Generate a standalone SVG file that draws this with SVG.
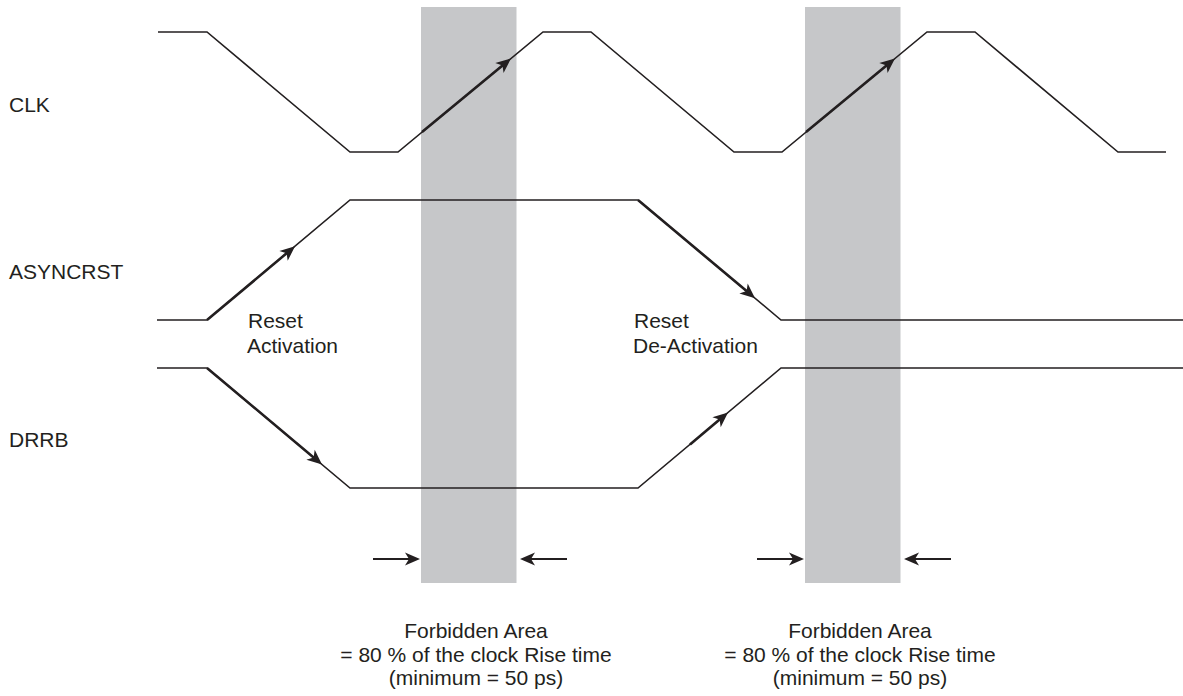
<svg xmlns="http://www.w3.org/2000/svg" width="1183" height="696" viewBox="0 0 1183 696">
<style>
.bg{fill:#ffffff}
.zone{fill:#c6c7c9}
.wave{fill:none;stroke:#231f20;stroke-width:1.6;stroke-linejoin:miter}
.thick{fill:none;stroke:#231f20;stroke-width:2.6;marker-end:url(#ah)}
.dim{fill:none;stroke:#231f20;stroke-width:1.8;marker-end:url(#ah)}
text{font-family:"Liberation Sans",Arial,Helvetica,sans-serif;font-size:21px;fill:#231f20}
.c{text-anchor:middle}
</style>
<defs>
<marker id="ah" markerUnits="userSpaceOnUse" markerWidth="16" markerHeight="14" refX="4" refY="7" orient="auto" overflow="visible">
<path d="M0,0.5 L15,7 L0,13.5 L4,7 Z" fill="#231f20"/>
</marker>
</defs>
<rect class="bg" x="0" y="0" width="1183" height="696"/>
<g id="forbidden-1"><rect class="zone" x="421" y="7" width="95.5" height="576"/></g>
<g id="forbidden-2"><rect class="zone" x="805" y="7" width="95.5" height="576"/></g>
<g id="clk">
<text x="9" y="112">CLK</text>
<polyline class="wave" points="158,32 207,32 350,152 398,152 543,32 591,32 734,152 782,152 927,32 975,32 1118,152 1166,152"/>
</g>
<g id="asyncrst">
<text x="9" y="279">ASYNCRST</text>
<polyline class="wave" points="157,320 207,320 350,200 638,200 781,320 1183,320"/>
</g>
<g id="drrb">
<text x="9" y="447">DRRB</text>
<polyline class="wave" points="157,368 207,368 350,488 638,488 781,368 1183,368"/>
</g>
<g id="label-reset-activation">
<text x="248" y="328">Reset</text>
<text x="247" y="353">Activation</text>
</g>
<g id="label-reset-deactivation">
<text x="634" y="328">Reset</text>
<text x="633" y="353">De-Activation</text>
</g>
<g id="label-forbidden-1">
<text class="c" x="476" y="638">Forbidden Area</text>
<text class="c" x="476" y="662">= 80 % of the clock Rise time</text>
<text class="c" x="476" y="685">(minimum = 50 ps)</text>
</g>
<g id="label-forbidden-2">
<text class="c" x="860" y="638">Forbidden Area</text>
<text class="c" x="860" y="662">= 80 % of the clock Rise time</text>
<text class="c" x="860" y="685">(minimum = 50 ps)</text>
</g>
<g id="connectors">
<line class="thick" x1="422" y1="132.1" x2="502.5" y2="65.5"/>
<line class="thick" x1="806" y1="132.1" x2="886.5" y2="65.5"/>
<line class="thick" x1="207" y1="320" x2="286.6" y2="253.3"/>
<line class="thick" x1="638" y1="200" x2="746.6" y2="291.1"/>
<line class="thick" x1="207" y1="368" x2="313.6" y2="457.4"/>
<line class="thick" x1="690" y1="444.4" x2="719.6" y2="419.6"/>
<line class="dim" x1="373" y1="559" x2="409" y2="559"/>
<line class="dim" x1="567" y1="559" x2="531" y2="559"/>
<line class="dim" x1="757" y1="559" x2="793" y2="559"/>
<line class="dim" x1="951" y1="559" x2="915" y2="559"/>
</g>
</svg>
